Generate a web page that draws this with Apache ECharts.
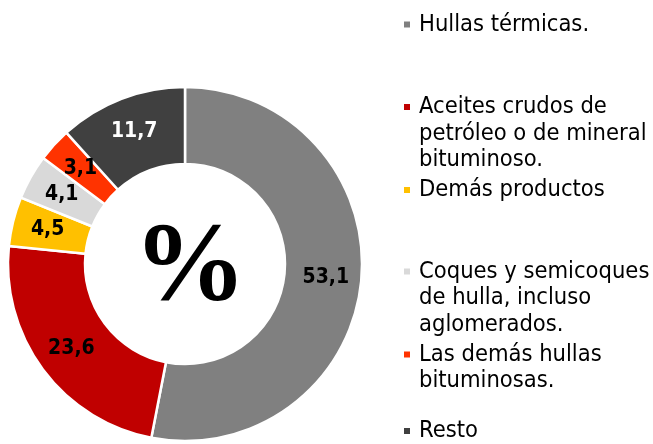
<!DOCTYPE html>
<html>
<head>
<meta charset="utf-8">
<script src="https://cdn.jsdelivr.net/npm/echarts@6/dist/echarts.min.js"></script>
<style>html,body{margin:0;padding:0;background:#fff}#c{width:653px;height:444px}</style>
</head>
<body>
<div id="c"></div>
<script>
const categories = ['Hullas térmicas.', 'Aceites crudos de petróleo o de mineral bituminoso.', 'Demás productos', 'Coques y semicoques de hulla, incluso aglomerados.', 'Las demás hullas bituminosas.', 'Resto'];
const legendLines = [['Hullas térmicas.'], ['Aceites crudos de', 'petróleo o de mineral', 'bituminoso.'], ['Demás productos'], ['Coques y semicoques', 'de hulla, incluso', 'aglomerados.'], ['Las demás hullas', 'bituminosas.'], ['Resto']];
const values = [53.1, 23.6, 4.5, 4.1, 3.1, 11.7];
const colors = ['#808080', '#C00000', '#FFC000', '#D9D9D9', '#FF3300', '#404040'];
const labelColors = ['#000', '#000', '#000', '#000', '#000', '#fff'];
const legendIconY = [24.5, 107, 190, 271.5, 354.5, 431];

const FONT = '"DejaVu Sans Condensed", "DejaVu Sans", sans-serif';
const LH = 26.5;
const chart = echarts.init(document.getElementById('c'), null, {renderer: 'canvas'});

const legends = categories.map((name, i) => {
  const n = legendLines[i].length;
  const pad = new Array(n - 1).fill(' ');
  return {
    data: [name],
    orient: 'vertical',
    left: 402,
    top: legendIconY[i] - (2 * n - 1) * LH / 2,
    padding: 0,
    itemWidth: 8,
    itemHeight: 8,
    icon: 'rect',
    selectedMode: false,
    formatter: () => pad.concat(legendLines[i]).join('\n'),
    textStyle: {
      fontFamily: FONT, fontSize: 23.5, color: '#000', lineHeight: LH,
      padding: [0, 0, 0, 3]
    }
  };
});

chart.setOption({
  animation: false,
  color: colors,
  legend: legends,
  title: {
    text: '%',
    left: 185, top: 266,
    textAlign: 'center', textVerticalAlign: 'middle',
    textStyle: {fontFamily: '"Liberation Serif", "DejaVu Serif", serif', fontWeight: 'bold', fontSize: 113, color: '#000'}
  },
  series: [{
    type: 'pie',
    center: [185, 264],
    radius: [100, 177],
    startAngle: 90,
    clockwise: true,
    avoidLabelOverlap: false,
    itemStyle: {borderColor: '#fff', borderWidth: 2.5},
    label: {
      position: 'inside',
      formatter: p => String(p.value).replace('.', ','),
      fontFamily: FONT, fontWeight: 'bold', fontSize: 21
    },
    labelLine: {show: false},
    emphasis: {disabled: true},
    data: categories.map((name, i) => ({
      name, value: values[i],
      itemStyle: {color: colors[i]},
      label: {color: labelColors[i]}
    }))
  }]
});
</script>
</body>
</html>
